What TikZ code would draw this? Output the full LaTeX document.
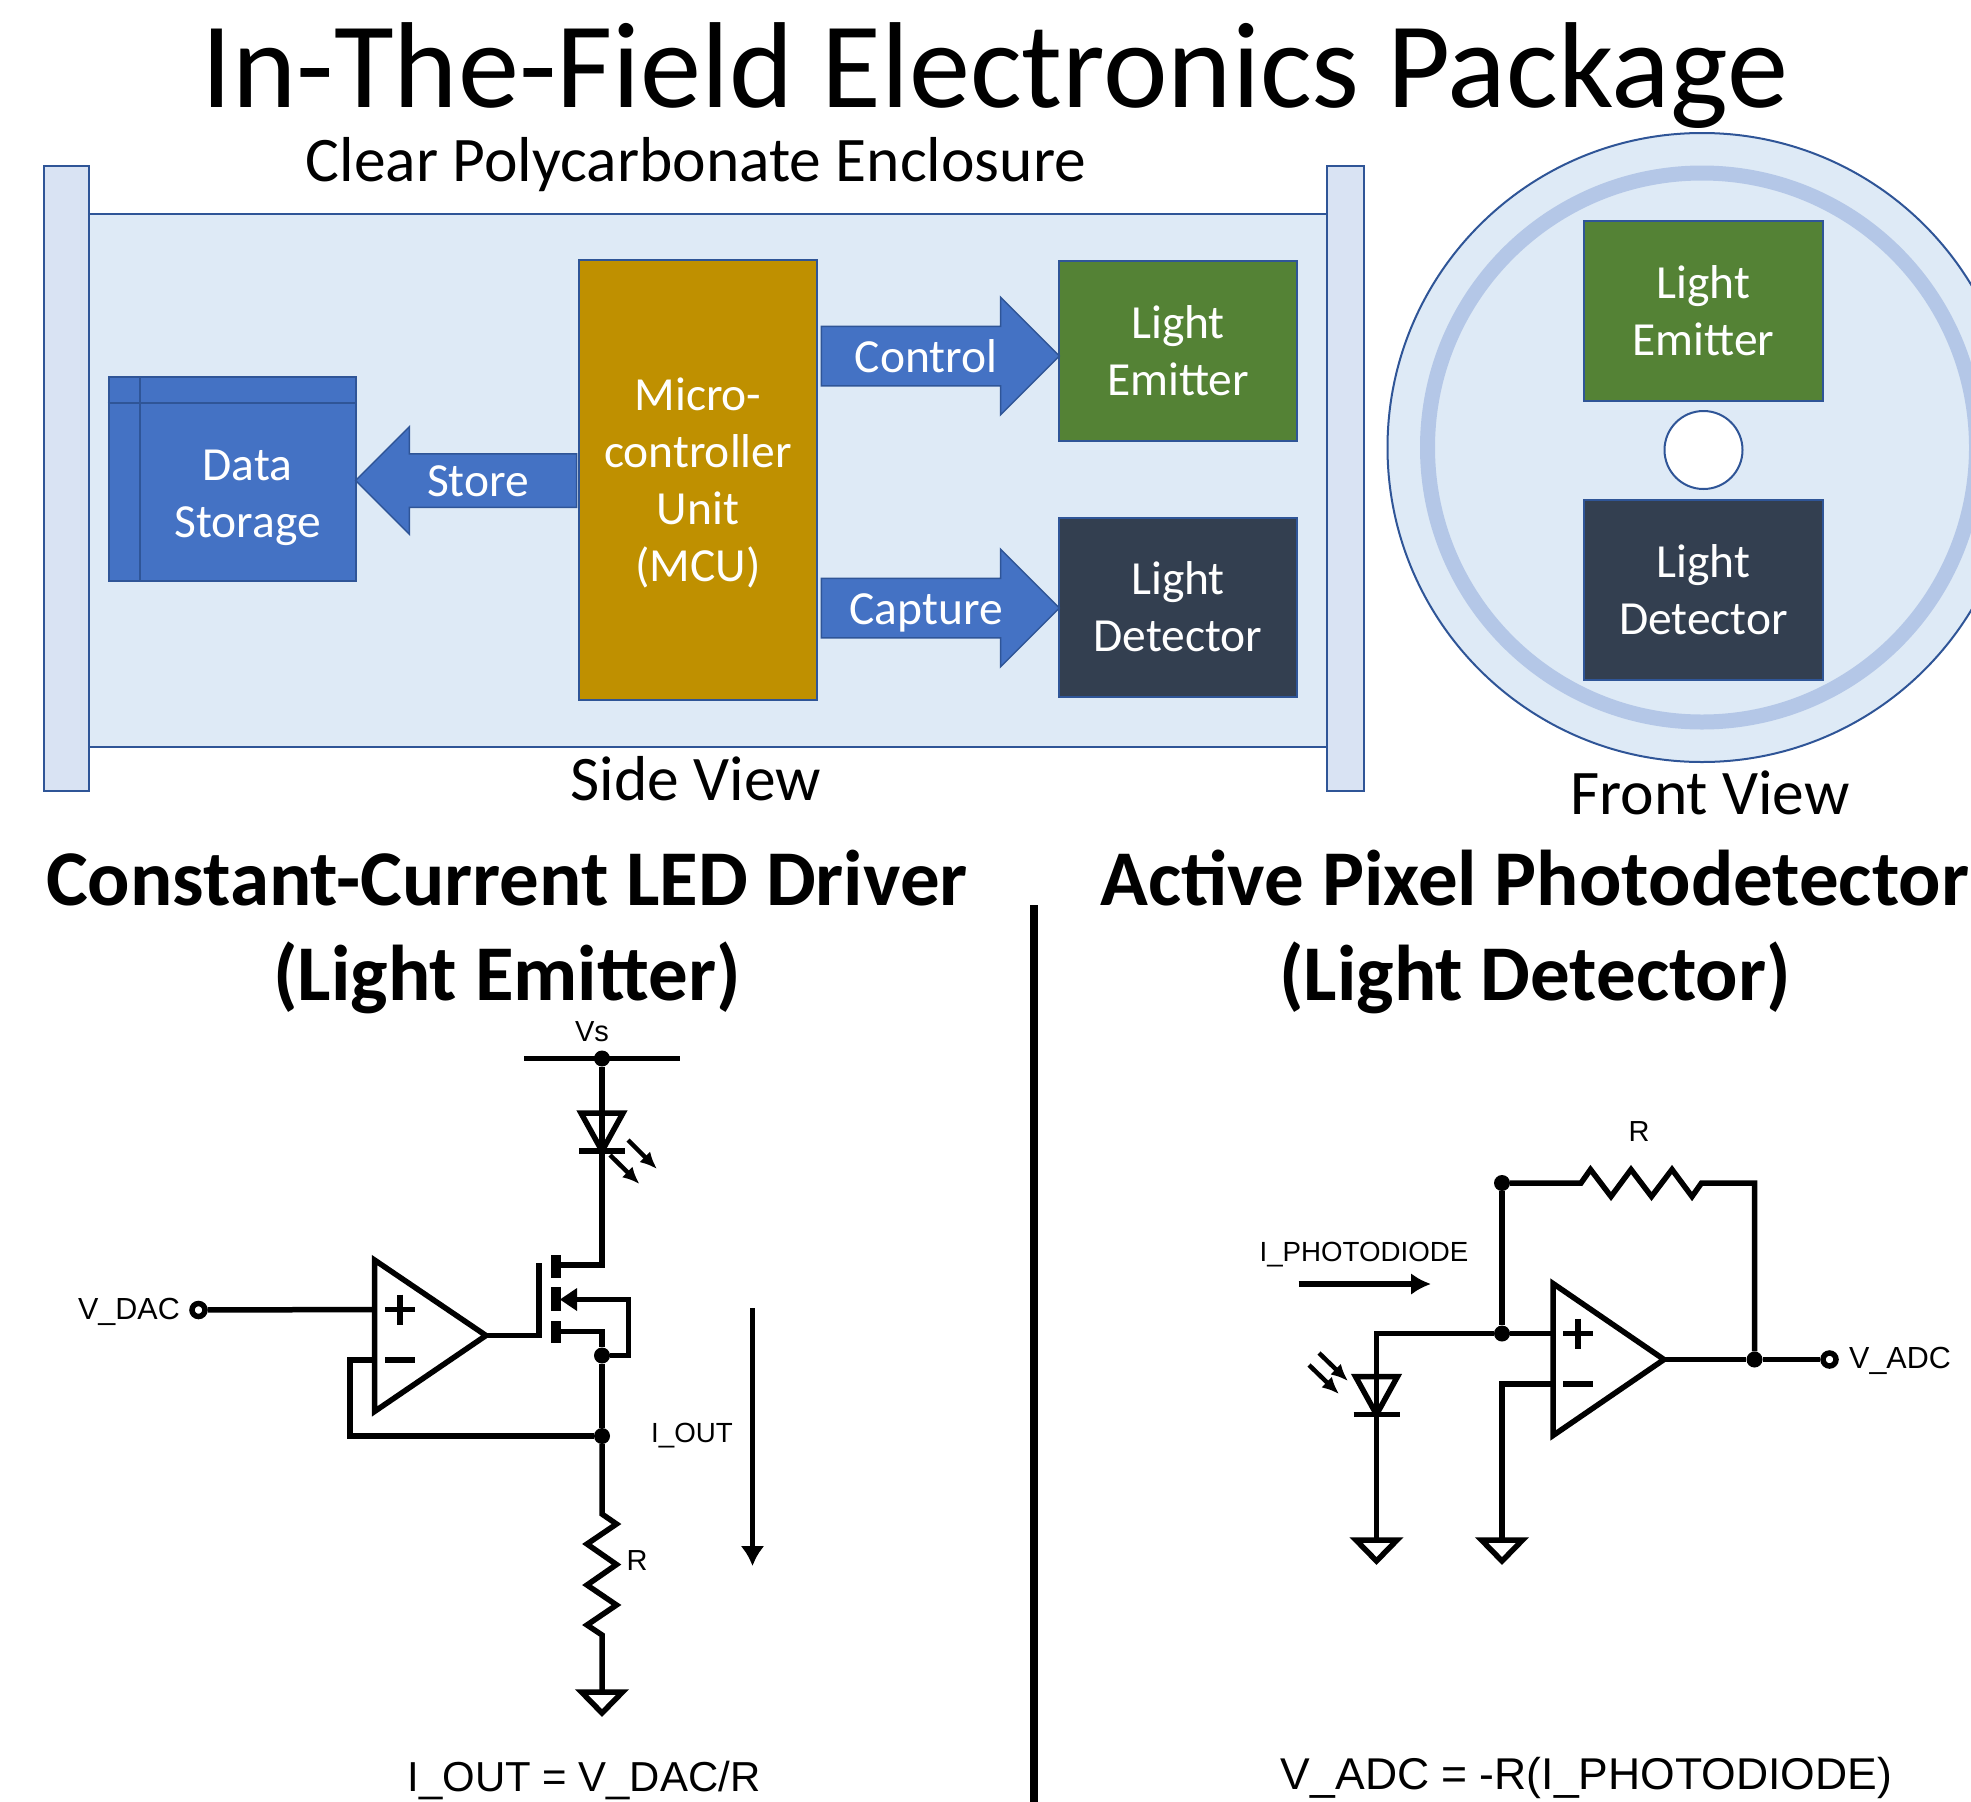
\documentclass[tikz,border=0pt]{standalone}
\usepackage{fontspec}
\setmainfont{Carlito}
\newfontfamily\arialfont{Liberation Sans}
\usetikzlibrary{arrows.meta,positioning,shapes.arrows}

\definecolor{bodyfill}{HTML}{DEEAF6}
\definecolor{flangefill}{HTML}{D9E3F3}
\definecolor{edgeblue}{HTML}{2F5597}
\definecolor{ringblue}{HTML}{B4C7E7}
\definecolor{blockblue}{HTML}{4472C4}
\definecolor{mcugold}{HTML}{BF9000}
\definecolor{emitgreen}{HTML}{548235}
\definecolor{detslate}{HTML}{333F50}

\tikzset{
  gndsym/.pic={\draw[wire] (-20.5,0) -- (20.5,0) -- (0,21) -- cycle;},
  diodesym/.pic={
    \draw[wire] (-21,0) -- (21,0) -- (0,38) -- cycle;
    \draw[wire] (-23,38) -- (23,38);
  }
}

\begin{document}
\begin{tikzpicture}[
  x=1pt,y=-1pt,
  every node/.style={inner sep=0pt,text=black},
  part/.style={draw=edgeblue,line width=2pt,align=center,text=white,
    font=\fontsize{47.5}{57}\selectfont},
  panel/.style={draw=edgeblue,line width=2pt},
  blockarrow/.style={single arrow,draw=edgeblue,line width=1.5pt,fill=blockblue,
    text height=58pt,text depth=0pt,single arrow head extend=29pt,minimum width=116pt},
  arrowtxt/.style={text=white,font=\fontsize{47.5}{57}\selectfont},
  capt/.style={anchor=base,font=\fontsize{63.5}{66}\selectfont},
  heading/.style={anchor=base,font=\fontsize{79}{81}\selectfont\bfseries},
  wire/.style={line width=5.5pt,draw=black},
  dot/.style={circle,fill=black,minimum size=16pt},
  term/.style={circle,draw=black,fill=white,line width=5.5pt,minimum size=13pt},
  pinlbl/.style={font=\arialfont\fontsize{29}{30}\selectfont},
  vlbl/.style={font=\arialfont\fontsize{30.5}{32}\selectfont},
  ilbl/.style={font=\arialfont\fontsize{27.7}{30}\selectfont},
  eqn/.style={anchor=base,font=\arialfont\fontsize{#1}{46}\selectfont},
  beam/.style={line width=4.5pt,draw=black,-{Latex[length=17pt,width=15pt]}},
  flow/.style={line width=5.5pt,draw=black,-{Latex[length=20pt,width=24pt]}}
]
\useasboundingbox (0,0) rectangle (1971,1802);

% --- Titles ---
\node[anchor=base,font=\fontsize{122.3}{125}\selectfont] (title) at (995,107) {In-The-Field Electronics Package};
\node[capt] (enclosure) at (696,181) {Clear Polycarbonate Enclosure};
\node[capt] (sideview)  at (696,800) {Side View};
\node[capt] (frontview) at (1710,814) {Front View};

% --- Side view ---
\node[panel,fill=bodyfill,minimum width=1240pt,minimum height=533pt] (tube) at (708,480.5) {};
\node[panel,fill=flangefill,minimum width=45pt,minimum height=625pt] (capl) at (66,478.5) {};
\node[panel,fill=flangefill,minimum width=37pt,minimum height=625pt] (capr) at (1345,478.5) {};

\node[part,fill=mcugold,minimum width=238pt,minimum height=440pt] (mcu) at (698,479.5) {};
\node[arrowtxt,align=center] (mcutxt) at (698,483) {Micro-\\controller\\Unit\\(MCU)};
\node[part,fill=blockblue,minimum width=247pt,minimum height=204pt] (storage) at (232,479) {};
\draw[edgeblue,line width=2pt] (storage.north west |- 0,402.5) -- (storage.north east |- 0,402.5);
\draw[edgeblue,line width=2pt] (139.5,0 |- storage.north) -- (139.5,0 |- storage.south);
\node[arrowtxt,align=center] (storagetxt) at (247.5,497.5) {Data\\Storage};

\node[part,fill=emitgreen,minimum width=238pt,minimum height=180pt]  (emit)  at (1178,350.5) {Light\\Emitter};
\node[part,fill=detslate,minimum width=238pt,minimum height=179pt] (detect) at (1178,607) {Light\\Detector};

\node[blockarrow,minimum height=221pt,shape border rotate=180,text height=52pt,
  single arrow head extend=27pt,minimum width=106pt] (storearrow) at (479.5,480.5) {};
\node[blockarrow,minimum height=238pt] (ctrlarrow) at (925.5,356) {};
\node[blockarrow,minimum height=238pt] (captarrow) at (925.5,608) {};
\node[arrowtxt] (storetxt) at (478,481) {Store};
\node[arrowtxt] (ctrltxt)  at (926,356) {Control};
\node[arrowtxt] (capttxt)  at (926,613) {Capture};

% --- Front view ---
\node[circle,panel,fill=bodyfill,minimum size=629pt] (face) at (1702,447.5) {};
\node[circle,draw=ringblue,line width=15pt,minimum size=549pt] (ring) at (1702,447.5) {};
\node[part,fill=emitgreen,minimum width=239pt,minimum height=180pt]  (emitf)   at (1703.5,310.5) {Light\\Emitter};
\node[part,fill=detslate,minimum width=239pt,minimum height=180pt] (detectf) at (1703.5,590) {Light\\Detector};
\node[circle,panel,fill=white,minimum size=78pt] (hole) at (1703.5,450) {};

% --- Headings ---
\node[heading] (headl1) at (507,905) {Constant-Current LED Driver};
\node[heading] (headl2) at (507,1000) {(Light Emitter)};
\node[heading] (headr1) at (1535,905) {Active Pixel Photodetector};
\node[heading] (headr2) at (1535,1000) {(Light Detector)};
\draw[line width=8pt] (1033.5,905) -- (1033.5,1802);

% --- LED driver ---
\coordinate (railw) at (524,1058.5);
\coordinate (raile) at (680,1058.5);
\coordinate (dac+) at (374.5,1309.5);
\coordinate (dac-) at (374.5,1360);
\coordinate (dacout) at (486,1335.5);
\coordinate (drain) at (561,1265);
\coordinate (bulk) at (561,1299.5);
\coordinate (srce) at (561,1331.5);
\coordinate (rtop) at (602,1514);
\coordinate (rbot) at (602,1635);
\coordinate (gndl) at (602,1692);

\node[dot] (vsdot) at (602,1058.5) {};
\node[dot] (srcdot) at (602,1355.5) {};
\node[dot] (fbdot) at (602,1436) {};
\node[term] (vdac) at (198.5,1310) {};

\node[pinlbl] (vslbl) at (592,1032) {Vs};
\node[vlbl] (vdaclbl) at (129,1311.5) {V\_DAC};
\node[pinlbl] (rlbl) at (637,1561) {R};
\node[ilbl] (ioutlbl) at (692,1436) {I\_OUT};
\node[eqn=41.9] (eqnl) at (584,1791) {I\_OUT = V\_DAC/R};

\draw[wire] (railw) -- (raile);
\draw[wire] (vsdot) -- (602,1113) (602,1113) -- (602 ,1265) -- (drain);
\pic at (602,1113) {diodesym};
\draw[beam] (628,1140) -- (657,1169);
\draw[beam] (610,1155) -- (639.5,1184);

\draw[wire] (374.5,1260) -- (486,1335.5) -- (374.5,1411.5) -- cycle;
\draw[wire] (385,1309.5) -- (415,1309.5) (400,1294.5) -- (400,1324.5);
\draw[wire] (385,1360) -- (415,1360);
\draw[wire] (vdac) -- (dac+);
\draw[wire] (dac-) -| (350,1436) -- (fbdot);
\draw[wire] (dacout) -- (539,1335.5) -- (539,1262.5);

% channel plates
\fill (551,1255) rectangle (561,1278);
\fill (551,1287) rectangle (561,1310.5);
\fill (551,1320.5) rectangle (561,1343);
\draw[wire] (srce) -| (srcdot);
\draw[wire] (srcdot) -| (628.5,1299.5) -- (575,1299.5);
\fill (560,1299.5) -- (577,1288) -- (577,1311) -- cycle;
\draw[wire] (srcdot) -- (fbdot);
\draw[wire] (fbdot) -- (rtop) -- (616.5,1524) -- (587,1544) -- (616.5,1564.5) -- (587,1585)
  -- (616.5,1605) -- (587,1625) -- (rbot) -- (gndl);
\pic at (gndl) {gndsym};
\draw[flow] (752.5,1308) -- (752.5,1566);

% --- Photodetector ---
\coordinate (adc+) at (1553,1333.5);
\coordinate (adc-) at (1553,1384);
\coordinate (pdtop) at (1376.5,1333.5);
\coordinate (gndp) at (1376.5,1540);
\coordinate (gndr) at (1502,1540);

\node[dot] (fbtop) at (1502,1183) {};
\node[dot] (indot) at (1502,1333.5) {};
\node[dot] (outdot) at (1754.5,1359.5) {};
\node[term] (vadc) at (1829.5,1359.5) {};

\node[pinlbl] (rflbl) at (1639,1132) {R};
\node[vlbl] (vadclbl) at (1900,1361) {V\_ADC};
\node[ilbl] (iphlbl) at (1364,1255) {I\_PHOTODIODE};
\node[eqn=44.5] (eqnr) at (1586.5,1789.5) {V\_ADC = -R(I\_PHOTODIODE)};

\draw[wire] (1553,1283.5) -- (1664,1359.5) -- (1553,1435.5) -- cycle;
\draw[wire] (1563,1333.5) -- (1593,1333.5) (1578,1318.5) -- (1578,1348.5);
\draw[wire] (1563,1384) -- (1593,1384);
\draw[wire] (fbtop) -- (1581,1183) -- (1590.5,1169.5) -- (1611,1196.5) -- (1631,1169.5) -- (1651.5,1196.5)
  -- (1672,1169.5) -- (1692,1196.5) -- (1701.5,1183) -- (1754.5,1183) -- (outdot);
\draw[wire] (fbtop) -- (indot);
\draw[wire] (gndp) |- (indot);
\draw[wire] (indot) -- (adc+);
\draw[wire] (1664,1359.5) -- (outdot);
\draw[wire] (outdot) -- (vadc);
\draw[wire] (adc-) -| (gndr);
\pic at (gndp) {gndsym};
\pic at (gndr) {gndsym};
\pic at (1376.5,1376.5) {diodesym};
\draw[beam] (1319,1353) -- (1348,1381);
\draw[beam] (1309,1365) -- (1339,1394);
\draw[flow,-{Latex[length=20pt,width=22pt]}] (1298.5,1284) -- (1431,1284);
\end{tikzpicture}
\end{document}
